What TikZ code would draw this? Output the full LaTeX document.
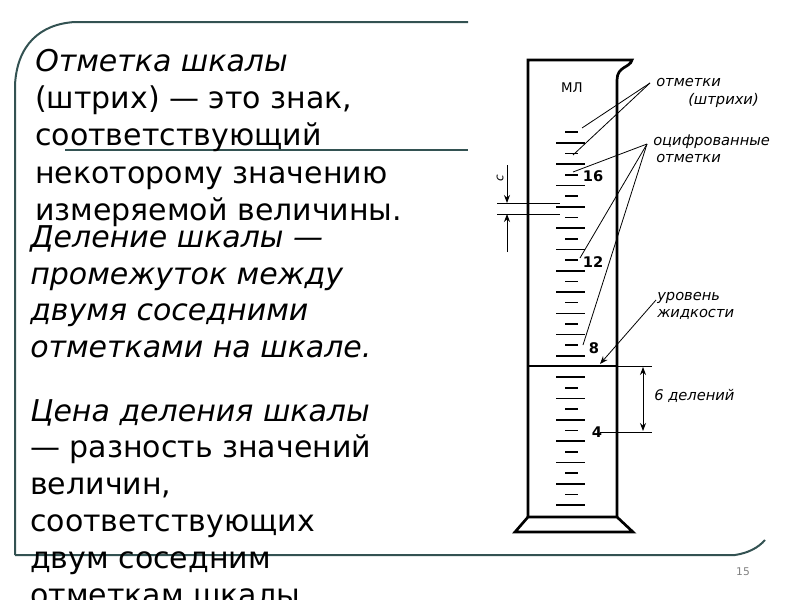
\documentclass[tikz,border=0pt]{standalone}
\usepackage{fontspec}
\setmainfont{DejaVu Sans}
\usetikzlibrary{arrows.meta}
\begin{document}
\begin{tikzpicture}[x=0.75pt,y=-0.75pt,
  frame/.style={draw=black!60!teal!60!gray, line width=1.5pt},
  body/.style={font=\fontsize{22.5}{27}\selectfont, anchor=base west, inner sep=0pt},
  ibody/.style={body, font=\fontsize{22.5}{27}\selectfont\itshape},
  note/.style={font=\fontsize{11}{12}\selectfont\itshape, inner sep=0pt, anchor=west},
  wall/.style={line width=2pt, black},
  lead/.style={line width=0.6pt}]
\useasboundingbox (0,0) rectangle (800,600);
\clip (0,0) rectangle (800,600);
% frame
\draw[frame] (15,555) -- (15,85) .. controls (17,45) and (40,24) .. (75,22) -- (468,22);
\draw[frame] (65,150) -- (468,150);
\draw[frame] (15,555) -- (735,555) .. controls (748,553) and (758,548) .. (765,540);
\node[text=gray, font=\fontsize{8}{9}\selectfont] (pg) at (743,572) {15};
% text
\foreach \t [count=\i] in {{\itshape Отметка шкалы},{(штрих) — это знак,},{соответствующий},{некоторому значению},{измеряемой величины.}}
  \node[body] (a\i) at (35,34+37.3*\i) {\t};
\foreach \t [count=\i] in {Деление шкалы —,промежуток между,двумя соседними,отметками на шкале.}
  \node[ibody] (b\i) at (30,211+36.5*\i) {\t};
\node[ibody] (c1) at (30,421) {Цена деления шкалы};
\foreach \t [count=\i] in {{— разность значений},{величин,},{соответствующих},{двум соседним},{отметкам шкалы.}}
  \node[body] (c\i x) at (30,421+36.8*\i) {\t};
% cylinder
\draw[wall] (528,517) -- (528,60) -- (632,60) .. controls (630,68) and (617,66) .. (617,80) -- (617,517);
\draw[wall] (528,517) -- (617,517) -- (633,532) -- (515,532) -- cycle;
\draw[wall] (528,366) -- (617,366);
\draw[lead] (617,366) -- (652,366);
\node[font=\fontsize{10}{11}\selectfont] (ml) at (572,88) {МЛ};
\foreach \k in {0,...,35}{
  \pgfmathsetmacro\yy{505-\k*10.65}
  \ifodd\k \draw[line width=1.2pt] (565,\yy) -- (578,\yy);
  \else \draw[line width=1.2pt] (556,\yy) -- (585,\yy); \fi}
\node[font=\bfseries\fontsize{11}{12}\selectfont] (n16) at (593,176) {16};
\node[font=\bfseries\fontsize{11}{12}\selectfont] (n12) at (593,262) {12};
\node[font=\bfseries\fontsize{11}{12}\selectfont] (n8) at (594,348) {8};
\node[font=\bfseries\fontsize{11}{12}\selectfont] (n4) at (597,432) {4};
% annotations
\node[note] (o1) at (656,82) {отметки};
\node[note] (o2) at (688,100) {(штрихи)};
\node[note] (z1) at (653,142) {оцифрованные};
\node[note] (z2) at (656,158) {отметки};
\node[note] (u1) at (657,298) {уровень};
\node[note] (u2) at (657,314) {жидкости};
\node[note] (d6) at (654,396) {6 делений};
\coordinate (p1) at (650,83);
\coordinate (p2) at (647,144);
\draw[lead] (p1) -- (582,128); \draw[lead] (p1) -- (573,155);
\draw[lead] (p2) -- (573,172); \draw[lead] (p2) -- (580,258); \draw[lead] (p2) -- (583,345);
\draw[lead,-{Stealth[length=6pt]}] (656,300) -- (600,364);
% c dimension
\draw[lead] (497,203) -- (560,203); \draw[lead] (497,214) -- (560,214);
\draw[lead,-{Stealth[length=6pt]}] (507,165) -- (507,203);
\draw[lead,-{Stealth[length=6pt]}] (507,252) -- (507,214);
\node[font=\itshape\fontsize{9}{10}\selectfont, rotate=90] (cc) at (500,178) {c};
% 6 divisions
\draw[lead] (600,432) -- (652,432);
\draw[lead,{Stealth[length=6pt]}-{Stealth[length=6pt]}] (643,367) -- (643,431);
\end{tikzpicture}
\end{document}
